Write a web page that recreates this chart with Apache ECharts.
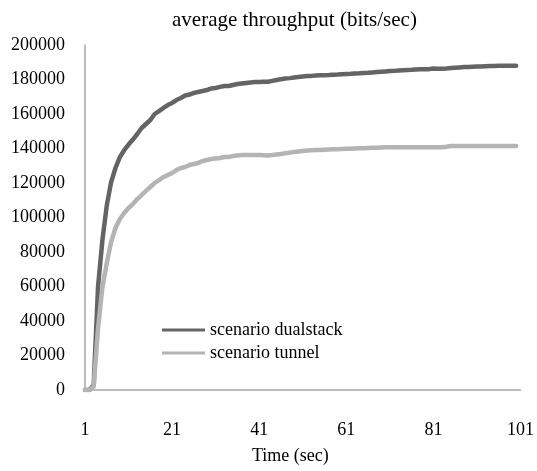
<!DOCTYPE html>
<html>
<head>
<meta charset="utf-8">
<script src="https://cdn.jsdelivr.net/npm/echarts@6/dist/echarts.min.js"></script>
<style>
html,body{margin:0;padding:0;background:#fff;}
#chart{width:537px;height:471px;}
</style>
</head>
<body>
<div id="chart"></div>
<script>
// Time axis categories (sec)
var timeCategories = [];
for (var i = 1; i <= 101; i++) timeCategories.push(String(i));

// scenario dualstack (bits/sec), t = 1..100
var dualstack = [
  0, 0, 3000, 60000, 87000, 107000, 120500, 128700, 135000, 139000,
  142300, 145200, 148400, 151900, 154200, 156500, 160000, 161700, 163500, 165200,
  166400, 168100, 169300, 170700, 171300, 172200, 172800, 173300, 173900, 174800,
  175100, 175700, 176200, 176200, 176800, 177400, 177700, 178000, 178300, 178500,
  178600, 178700, 178700, 179200, 179700, 180200, 180600, 180800, 181100, 181400,
  181700, 182000, 182100, 182300, 182400, 182500, 182600, 182800, 182900, 183100,
  183200, 183300, 183500, 183600, 183800, 183900, 184100, 184300, 184500, 184700,
  184900, 185000, 185200, 185400, 185500, 185600, 185800, 185900, 185900, 186000,
  186400, 186300, 186300, 186400, 186600, 186800, 187000, 187200, 187300, 187400,
  187500, 187600, 187700, 187800, 187800, 187900, 187900, 188000, 188000, 188000
];

// scenario tunnel (bits/sec), t = 1..100
var tunnel = [
  0, 0, 2000, 36000, 59700, 73600, 85800, 93900, 99100, 102600,
  105500, 107800, 110700, 113000, 115400, 117700, 120000, 121700, 123500, 124600,
  125800, 127500, 128700, 129300, 130400, 131000, 131600, 132800, 133300, 133900,
  134200, 134500, 135100, 135100, 135600, 135900, 136200, 136200, 136200, 136200,
  136200, 136100, 136000, 136200, 136500, 136800, 137200, 137600, 138000, 138300,
  138600, 138800, 139000, 139100, 139200, 139300, 139400, 139500, 139600, 139700,
  139800, 139900, 140000, 140100, 140200, 140300, 140400, 140500, 140600, 140700,
  140700, 140700, 140700, 140700, 140700, 140700, 140700, 140700, 140700, 140700,
  140700, 140700, 140700, 141000, 141400, 141400, 141400, 141400, 141400, 141400,
  141400, 141400, 141400, 141400, 141400, 141400, 141400, 141400, 141400, 141400
];

var seriesNames = ['scenario dualstack', 'scenario tunnel'];
var titleText = 'average throughput (bits/sec)';
var xAxisTitle = 'Time (sec)';

var FONT = '"Liberation Serif", "Times New Roman", serif';
var chart = echarts.init(document.getElementById('chart'));
chart.setOption({
  animation: false,
  backgroundColor: '#ffffff',
  title: [
    { text: titleText, left: 167, top: 5,
      textStyle: { fontFamily: FONT, fontSize: 21, fontWeight: 'normal', color: '#000' } },
    { text: xAxisTitle, left: 247, top: 442,
      textStyle: { fontFamily: FONT, fontSize: 18, fontWeight: 'normal', color: '#000' } }
  ],
  legend: {
    orient: 'vertical',
    left: 157,
    top: 316,
    itemWidth: 43,
    itemHeight: 3,
    itemGap: 5,
    icon: 'rect',
    data: seriesNames,
    textStyle: { fontFamily: FONT, fontSize: 18, color: '#000' }
  },
  grid: { left: 85, right: 12, top: 45, bottom: 81, containLabel: false },
  xAxis: {
    type: 'category',
    data: timeCategories,
    boundaryGap: false,
    axisLine: { lineStyle: { color: '#a6a6a6', width: 1.5 } },
    axisTick: { show: false },
    axisLabel: { interval: 19, margin: 31, fontFamily: FONT, fontSize: 18, color: '#000' },
    splitLine: { show: false }
  },
  yAxis: {
    type: 'value',
    min: 0, max: 200000, interval: 20000,
    axisLine: { show: true, lineStyle: { color: '#a6a6a6', width: 1.5 } },
    axisTick: { show: false },
    splitLine: { show: false },
    axisLabel: { margin: 20, fontFamily: FONT, fontSize: 18, color: '#000',
      formatter: function (v) { return String(v); } }
  },
  series: [
    { name: seriesNames[0], type: 'line', data: dualstack, symbol: 'none',
      color: '#646464', lineStyle: { color: '#646464', width: 4.5, cap: 'round', join: 'round' } },
    { name: seriesNames[1], type: 'line', data: tunnel, symbol: 'none',
      color: '#b4b4b4', lineStyle: { color: '#b4b4b4', width: 4.5, cap: 'round', join: 'round' } }
  ]
});
</script>
</body>
</html>
